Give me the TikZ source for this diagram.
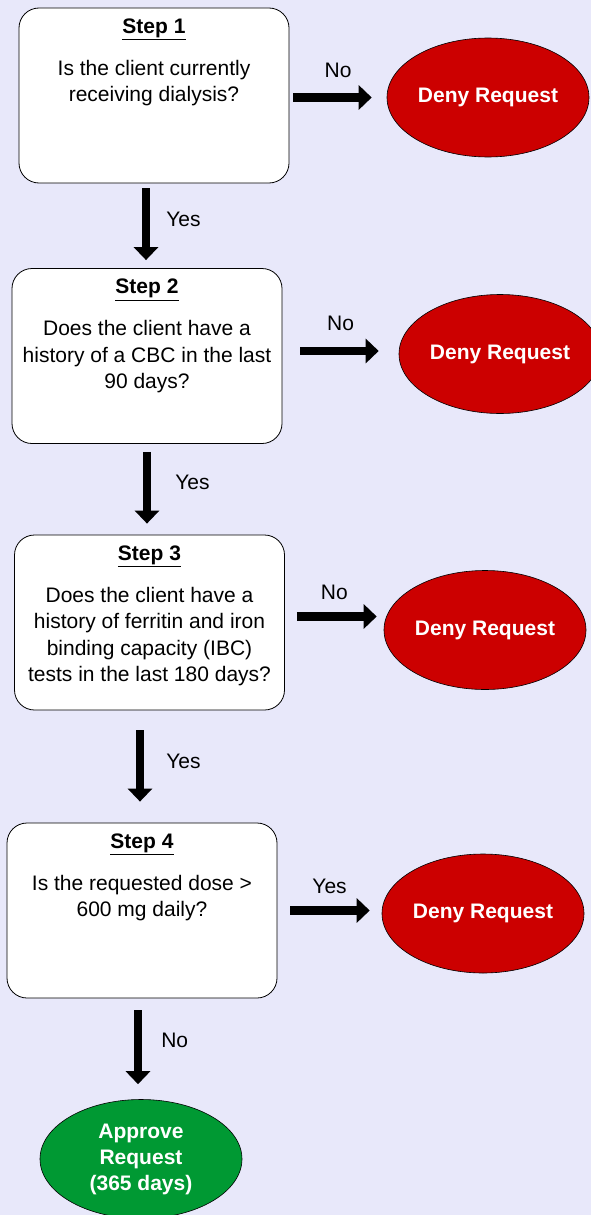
\documentclass[tikz,border=0pt]{standalone}
\usepackage{fontspec}
\setmainfont{Liberation Sans}
\usetikzlibrary{arrows.meta,positioning,shapes.geometric}

\definecolor{pagebg}{RGB}{232,232,250}
\definecolor{denyred}{RGB}{204,0,0}
\definecolor{approvegreen}{RGB}{0,153,51}

\begin{document}
\begin{tikzpicture}[x=1pt,y=-1pt,
  stepbox/.style={draw,fill=white,rounded corners=20pt,line width=0.8pt,
    minimum width=270pt,minimum height=175pt},
  steptext/.style={anchor=north,align=center,inner sep=0pt,
    font=\fontsize{21}{26.5}\selectfont},
  outcome/.style={ellipse,draw,line width=0.6pt,text=white,align=center,
    minimum width=202pt,minimum height=119pt,inner sep=0pt,
    font=\fontsize{21}{26}\selectfont\bfseries},
  deny/.style={outcome,fill=denyred},
  approve/.style={outcome,fill=approvegreen},
  flow/.style={line width=8.5pt,-{Triangle[width=24pt,length=13pt]}},
  answer/.style={inner sep=0pt,font=\fontsize{21}{24}\selectfont}]

  \fill[pagebg] (0,0) rectangle (591,1215);
  \useasboundingbox (0,0) rectangle (591,1215);

  % step boxes
  \node[stepbox] (step1) at (154,95.5) {};
  \node[stepbox] (step2) at (147,356) {};
  \node[stepbox] (step3) at (149.5,622.5) {};
  \node[stepbox] (step4) at (142,910.5) {};

  \node[steptext] (step1txt) at ([yshift=-11pt]step1.north)
    {\underline{\textbf{Step 1}}\\[15.5pt]Is the client currently\\receiving dialysis?};
  \node[steptext] (step2txt) at ([yshift=-11pt]step2.north)
    {\underline{\textbf{Step 2}}\\[15.5pt]Does the client have a\\history of a CBC in the last\\90 days?};
  \node[steptext] (step3txt) at ([yshift=-11pt]step3.north)
    {\underline{\textbf{Step 3}}\\[15.5pt]Does the client have a\\history of ferritin and iron\\binding capacity (IBC)\\tests in the last 180 days?};
  \node[steptext] (step4txt) at ([yshift=-11pt]step4.north)
    {\underline{\textbf{Step 4}}\\[15.5pt]Is the requested dose >\\600 mg daily?};

  % outcomes
  \node[deny] (deny1) at (488,97.5) {Deny Request};
  \node[deny] (deny2) at (500,354) {Deny Request};
  \node[deny] (deny3) at (485,630) {Deny Request};
  \node[deny] (deny4) at (483,913.5) {Deny Request};
  \node[approve] (approve) at (141,1159) {Approve\\Request\\(365 days)};

  % side arrows
  \draw[flow,shorten <=4pt,shorten >=15pt] ([yshift=-2pt]step1.east) -- ([yshift=-2pt]step1.east -| deny1.west)
    node[answer,midway,above=16pt] (no1) {No};
  \draw[flow,shorten <=18pt,shorten >=20pt] ([yshift=5pt]step2.east) -- ([yshift=5pt]step2.east -| deny2.west)
    node[answer,midway,above=16pt] (no2) {No};
  \draw[flow,shorten <=12pt,shorten >=7pt] ([yshift=6pt]step3.east) -- ([yshift=6pt]step3.east -| deny3.west)
    node[answer,midway,above=13pt] (no3) {No};
  \draw[flow,shorten <=13pt,shorten >=12pt] (step4.east) -- (step4.east -| deny4.west)
    node[answer,midway,above=13pt] (yes4) {Yes};

  % down arrows
  \draw[flow,shorten <=5pt,shorten >=8pt] ([xshift=-1pt]step1.south -| step2.north) -- ([xshift=-1pt]step2.north)
    node[answer,pos=0.42,right=16pt] (yes1) {Yes};
  \draw[flow,shorten <=8pt,shorten >=11pt] (step2.south) -- (step2.south |- step3.north)
    node[answer,pos=0.42,right=24pt] (yes2) {Yes};
  \draw[flow,shorten <=20pt,shorten >=21pt] ([xshift=-2pt]step3.south -| step4.north) -- ([xshift=-2pt]step4.north)
    node[answer,pos=0.45,right=22pt] (yes3) {Yes};
  \draw[flow,shorten <=12pt,shorten >=15pt] ([xshift=-4pt]step4.south) -- ([xshift=-4pt]step4.south |- approve.north)
    node[answer,pos=0.42,right=19pt] (no4) {No};
\end{tikzpicture}
\end{document}
